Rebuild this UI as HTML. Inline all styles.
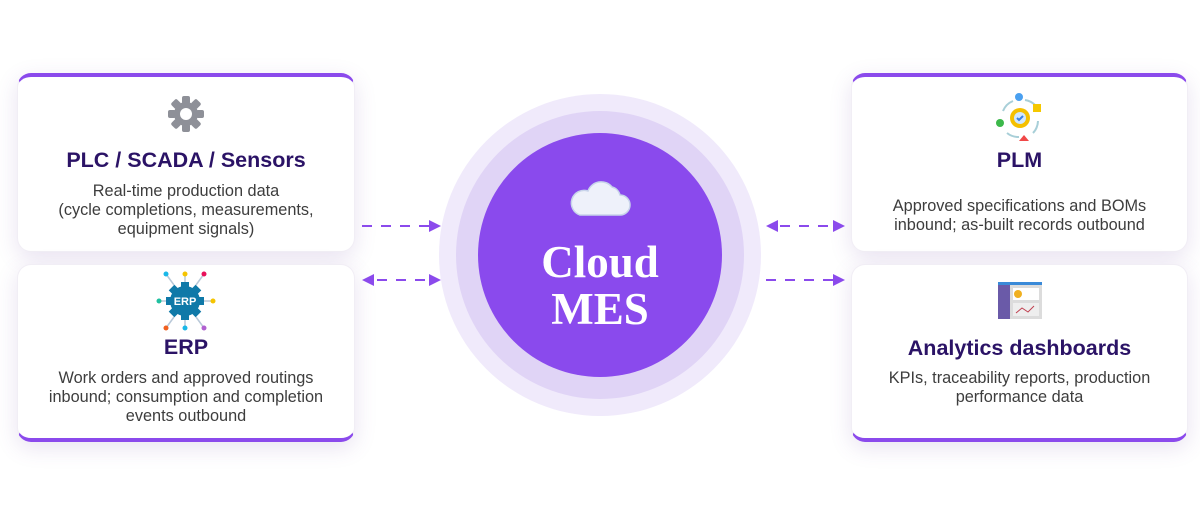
<!DOCTYPE html>
<html><head><meta charset="utf-8"><style>
body{margin:0;width:1200px;height:531px;background:#fff;position:relative;overflow:hidden;font-family:"Liberation Sans",sans-serif}
.card{position:absolute;background:#fff;border-radius:14px;box-shadow:0 6px 22px rgba(120,80,170,.16);text-align:center;box-sizing:border-box;border:1px solid #f1eef5}
.top{border-top:4px solid #8b4aec}
.bot{border-bottom:4px solid #8b4aec}
.t{color:#2b1366;font-weight:bold;font-size:21.5px;position:absolute;left:0;right:0}
.d{color:#3d3d3d;font-size:16.3px;line-height:19px;position:absolute;left:0;right:0}
.ic{position:absolute;left:50%;transform:translateX(-50%)}
</style></head><body>
<div class="card top" style="left:17px;top:73px;width:338px;height:179px">
 <svg class="ic" style="top:18px" width="38" height="38" viewBox="-19 -19 38 38"><g fill="#8e9098"><circle r="12"/><g id="tt"><rect x="-4" y="-18" width="8" height="8" rx="2"/></g><use href="#tt" transform="rotate(45)"/><use href="#tt" transform="rotate(90)"/><use href="#tt" transform="rotate(135)"/><use href="#tt" transform="rotate(180)"/><use href="#tt" transform="rotate(225)"/><use href="#tt" transform="rotate(270)"/><use href="#tt" transform="rotate(315)"/></g><circle r="6" fill="#fff"/></svg>
 <div class="t" style="top:71px">PLC / SCADA / Sensors</div>
 <div class="d" style="top:105px">Real-time production data<br>(cycle completions, measurements,<br>equipment signals)</div>
</div>
<div class="card bot" style="left:17px;top:264px;width:338px;height:178px">
 <svg class="ic" style="top:6px" width="60" height="60" viewBox="0 0 60 60"><g stroke="#b8c8d8" stroke-width="1.5" fill="none"><path d="M10 3 L18 14 M29 3 V12 M48 3 L40 14 M3 30 H12 M57 30 H48 M10 57 L18 46 M29 57 V48 M48 57 L40 46"/></g><circle cx="10" cy="3" r="2.5" fill="#1ab8e8"/><circle cx="29" cy="3" r="2.5" fill="#f5c400"/><circle cx="48" cy="3" r="2.5" fill="#e8105a"/><circle cx="3" cy="30" r="2.5" fill="#20c0a0"/><circle cx="57" cy="30" r="2.5" fill="#f5c400"/><circle cx="10" cy="57" r="2.5" fill="#f06020"/><circle cx="29" cy="57" r="2.5" fill="#1ab8e8"/><circle cx="48" cy="57" r="2.5" fill="#b060d0"/><circle cx="29" cy="30" r="15" fill="#0f79a8"/><g fill="#0f79a8"><rect x="25" y="11" width="8" height="38"/><rect x="10" y="26" width="38" height="8"/><rect x="25" y="11" width="8" height="38" transform="rotate(45 29 30)"/><rect x="25" y="11" width="8" height="38" transform="rotate(-45 29 30)"/></g><text x="29" y="34" font-size="11" font-weight="bold" fill="#fff" text-anchor="middle" font-family="Liberation Sans">ERP</text></svg>
 <div class="t" style="top:70px">ERP</div>
 <div class="d" style="top:104px">Work orders and approved routings<br>inbound; consumption and completion<br>events outbound</div>
</div>
<div class="card top" style="left:851px;top:73px;width:337px;height:179px">
 <svg class="ic" style="top:16px" width="50" height="50" viewBox="0 0 50 50"><g fill="none" stroke="#a8cfd8" stroke-width="2"><path d="M8 18 A18 18 0 0 1 18 8 M30 7 A18 18 0 0 1 40 12 M43 28 A18 18 0 0 1 38 40 M24 44 A18 18 0 0 1 12 40"/></g><circle cx="24" cy="4" r="4" fill="#4aa0f0"/><rect x="38" y="11" width="8" height="8" fill="#f5c800"/><circle cx="5" cy="30" r="4" fill="#3cb84a"/><path d="M29 42 L34 48 H24 Z" fill="#f04848"/><circle cx="25" cy="25" r="10" fill="#f5c000"/><circle cx="25" cy="25" r="6" fill="#cfe7ff"/><path d="M22 25 l2 2 l4 -4" stroke="#3a80e0" stroke-width="2" fill="none"/></svg>
 <div class="t" style="top:71px">PLM</div>
 <div class="d" style="top:120px">Approved specifications and BOMs<br>inbound; as-built records outbound</div>
</div>
<div class="card bot" style="left:851px;top:264px;width:337px;height:178px">
 <svg class="ic" style="top:17px" width="44" height="37" viewBox="0 0 44 37"><rect width="44" height="37" fill="#dcdcdc"/><rect width="44" height="3" fill="#3a8ad8"/><rect y="3" width="12" height="34" fill="#6a5aa8"/><rect x="15" y="6" width="26" height="12" fill="#fff"/><circle cx="20" cy="12" r="4" fill="#f0b020"/><rect x="15" y="21" width="26" height="13" fill="#eee"/><path d="M18 31 L24 26 L30 30 L36 24" stroke="#c04050" fill="none"/></svg>
 <div class="t" style="top:71px">Analytics dashboards</div>
 <div class="d" style="top:104px">KPIs, traceability reports, production<br>performance data</div>
</div>
<svg style="position:absolute;left:0;top:0" width="1200" height="531">
 <circle cx="600" cy="255" r="161" fill="#f0eafb"/>
 <circle cx="600" cy="255" r="144" fill="#e0d4f6"/>
 <circle cx="600" cy="255" r="122" fill="#8a4aed"/>
 <g fill="#eef1fa" stroke="#c8d4ea" stroke-width="1.5"><path d="M580 215 h40 a10 10 0 0 0 0 -20 a11 11 0 0 0 -8 -8 a14 14 0 0 0 -24 4 a10 10 0 0 0 -8 24 z"/></g>
 <text x="600" y="277" fill="#fff" font-family="Liberation Serif,serif" font-weight="bold" font-size="45" text-anchor="middle">Cloud</text>
 <text x="600" y="324" fill="#fff" font-family="Liberation Serif,serif" font-weight="bold" font-size="45" text-anchor="middle">MES</text>
 <g stroke="#8b4aec" stroke-width="2" stroke-dasharray="10 9" fill="none">
  <path d="M362 226 H430"/><path d="M377 280 H428"/>
  <path d="M780 226 H834"/><path d="M766 280 H834"/>
 </g>
 <g fill="#8b4aec">
  <path d="M441 226 l-12 -6 v12z"/>
  <path d="M441 280 l-12 -6 v12z"/><path d="M362 280 l12 -6 v12z"/>
  <path d="M845 226 l-12 -6 v12z"/><path d="M766 226 l12 -6 v12z"/>
  <path d="M845 280 l-12 -6 v12z"/>
 </g>
</svg>
</body></html>
